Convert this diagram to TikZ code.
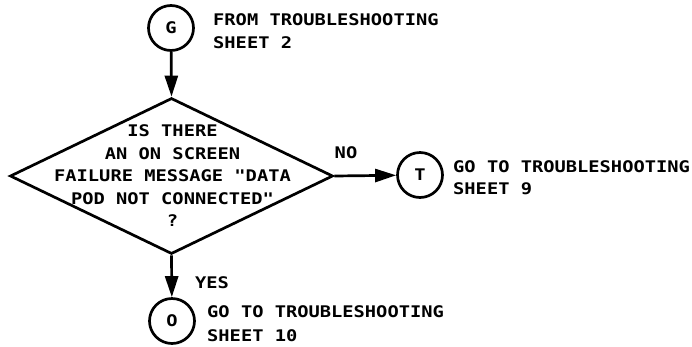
\documentclass[tikz,border=0pt]{standalone}
\usepackage{fontspec}
\newfontfamily\plotfont[FakeStretch=1.17,Ligatures=TeXOff]{DejaVu Sans Mono Bold}
\usetikzlibrary{shapes.geometric,arrows.meta}
\begin{document}
\begin{tikzpicture}[x=1pt,y=-1pt,
  every node/.style={font=\plotfont\fontsize{16}{22.5}\selectfont, inner sep=0pt},
  conn/.style={circle,draw,line width=2.7pt,minimum size=45pt},
  lbl/.style={anchor=base west},
  flow/.style={line width=2.7pt,-{Triangle[length=21pt,width=13pt]}}]
\useasboundingbox (0,0) rectangle (692,346);
% connectors (circles)
\node[conn] (G) at (171,28) {G};
\node[conn] (T) at (420,175) {T};
\node[conn] (O) at (172,321) {O};
% decision
\node[diamond, draw, line width=2.7pt, minimum width=323pt, minimum height=156pt] (D) at (171.5,176) {};
\node[align=center] (Q) at (172.5,176) {IS THERE\\AN ON SCREEN\\FAILURE MESSAGE "DATA\\POD NOT CONNECTED"\\?};
% texts
\node[lbl] (g1) at (213,25) {FROM TROUBLESHOOTING};
\node[lbl] (g2) at (213,48) {SHEET 2};
\node[lbl] (t1) at (453,172) {GO TO TROUBLESHOOTING};
\node[lbl] (t2) at (453,194) {SHEET 9};
\node[lbl] (o1) at (207,317) {GO TO TROUBLESHOOTING};
\node[lbl] (o2) at (207,341) {SHEET 10};
\node[anchor=base] (no) at (346,158) {NO};
\node[lbl] (yes) at (195,288) {YES};
% arrows
\draw[flow] (G) -- (D.north);
\draw[flow] (D.east) -- (T);
\draw[flow] (D.south) -- (O);
\end{tikzpicture}
\end{document}
